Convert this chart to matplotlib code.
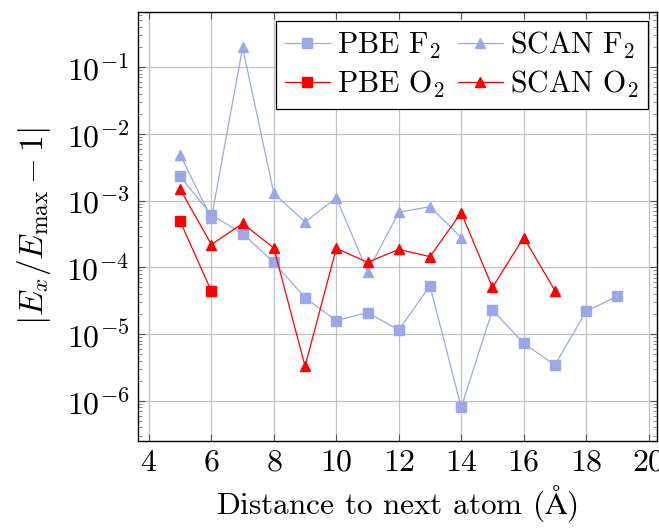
import matplotlib

matplotlib.use("Agg")

import matplotlib.pyplot as plt
from matplotlib.ticker import LogLocator, NullFormatter

LIGHT_BLUE = "#9aa8e6"
RED = "#ff0000"

# distances (Angstrom) and |E_x / E_max - 1|
pbe_f2_x = [5, 6, 7, 8, 9, 10, 11, 12, 13, 14, 15, 16, 17, 18, 19]
pbe_f2_y = [2.3e-3, 6.1e-4, 3.2e-4, 1.19e-4, 3.5e-5, 1.6e-5, 2.1e-5, 1.16e-5,
            5.3e-5, 8.0e-7, 2.3e-5, 7.3e-6, 3.45e-6, 2.2e-5, 3.7e-5]

scan_f2_x = [5, 6, 7, 8, 9, 10, 11, 12, 13, 14]
scan_f2_y = [4.9e-3, 5.4e-4, 0.197, 1.28e-3, 4.8e-4, 1.1e-3, 8.6e-5, 6.7e-4,
             8.1e-4, 2.8e-4]

pbe_o2_x = [5, 6]
pbe_o2_y = [4.9e-4, 4.4e-5]

scan_o2_x = [5, 6, 7, 8, 9, 10, 11, 12, 13, 14, 15, 16, 17]
scan_o2_y = [1.48e-3, 2.2e-4, 4.55e-4, 1.95e-4, 3.3e-6, 1.93e-4, 1.19e-4,
             1.86e-4, 1.45e-4, 6.6e-4, 5.0e-5, 2.8e-4, 4.5e-5]

x_ticks = [4, 6, 8, 10, 12, 14, 16, 18, 20]

plt.rcParams.update(
    {
        "font.family": "serif",
        "font.serif": ["cmr10", "DejaVu Serif"],
        "mathtext.fontset": "cm",
        "axes.formatter.use_mathtext": True,
        "font.size": 22,
    }
)

fig = plt.figure(figsize=(6.59, 5.29), dpi=100)
ax = fig.add_axes([0.2094, 0.1664, 0.7876, 0.8109])

common = dict(linewidth=0.9, markersize=7.5)
ax.plot(pbe_f2_x, pbe_f2_y, marker="s", color=LIGHT_BLUE, label=r"PBE F$_2$", **common)
ax.plot(pbe_o2_x, pbe_o2_y, marker="s", color=RED, label=r"PBE O$_2$", **common)
ax.plot(scan_f2_x, scan_f2_y, marker="^", color=LIGHT_BLUE, label=r"SCAN F$_2$", **common)
ax.plot(scan_o2_x, scan_o2_y, marker="^", color=RED, label=r"SCAN O$_2$", **common)

ax.set_yscale("log")
ax.set_xlim(3.65, 20.27)
ax.set_ylim(10 ** -6.6, 10 ** -0.175)
ax.set_xticks(x_ticks)
ax.yaxis.set_major_locator(LogLocator(base=10, numticks=15))
ax.yaxis.set_minor_locator(LogLocator(base=10, subs=range(2, 10), numticks=15))
ax.yaxis.set_minor_formatter(NullFormatter())

ax.grid(True, which="major", color="#c2c2c2", linewidth=0.9)
ax.tick_params(which="both", direction="in", top=True, right=True)
ax.tick_params(which="major", length=5, width=0.8, color="#555555", labelsize=23, pad=6)
ax.tick_params(which="minor", length=3, width=0.6, color="#777777")
for spine in ax.spines.values():
    spine.set_linewidth(1.0)

ax.set_xlabel(r"Distance to next atom ($\mathrm{\AA}$)", fontsize=22.5, labelpad=5)
ax.set_ylabel(r"$|E_x/E_{\max} - 1|$", fontsize=24, labelpad=10)

leg = ax.legend(
    loc="upper right",
    ncol=2,
    fontsize=21.5,
    fancybox=False,
    edgecolor="black",
    framealpha=1,
    handlelength=1.5,
    handletextpad=0.25,
    columnspacing=0.45,
    labelspacing=0.25,
    borderpad=0.3,
    borderaxespad=0.3,
)
leg.get_frame().set_linewidth(0.9)

fig.savefig("out.png", dpi=100)
